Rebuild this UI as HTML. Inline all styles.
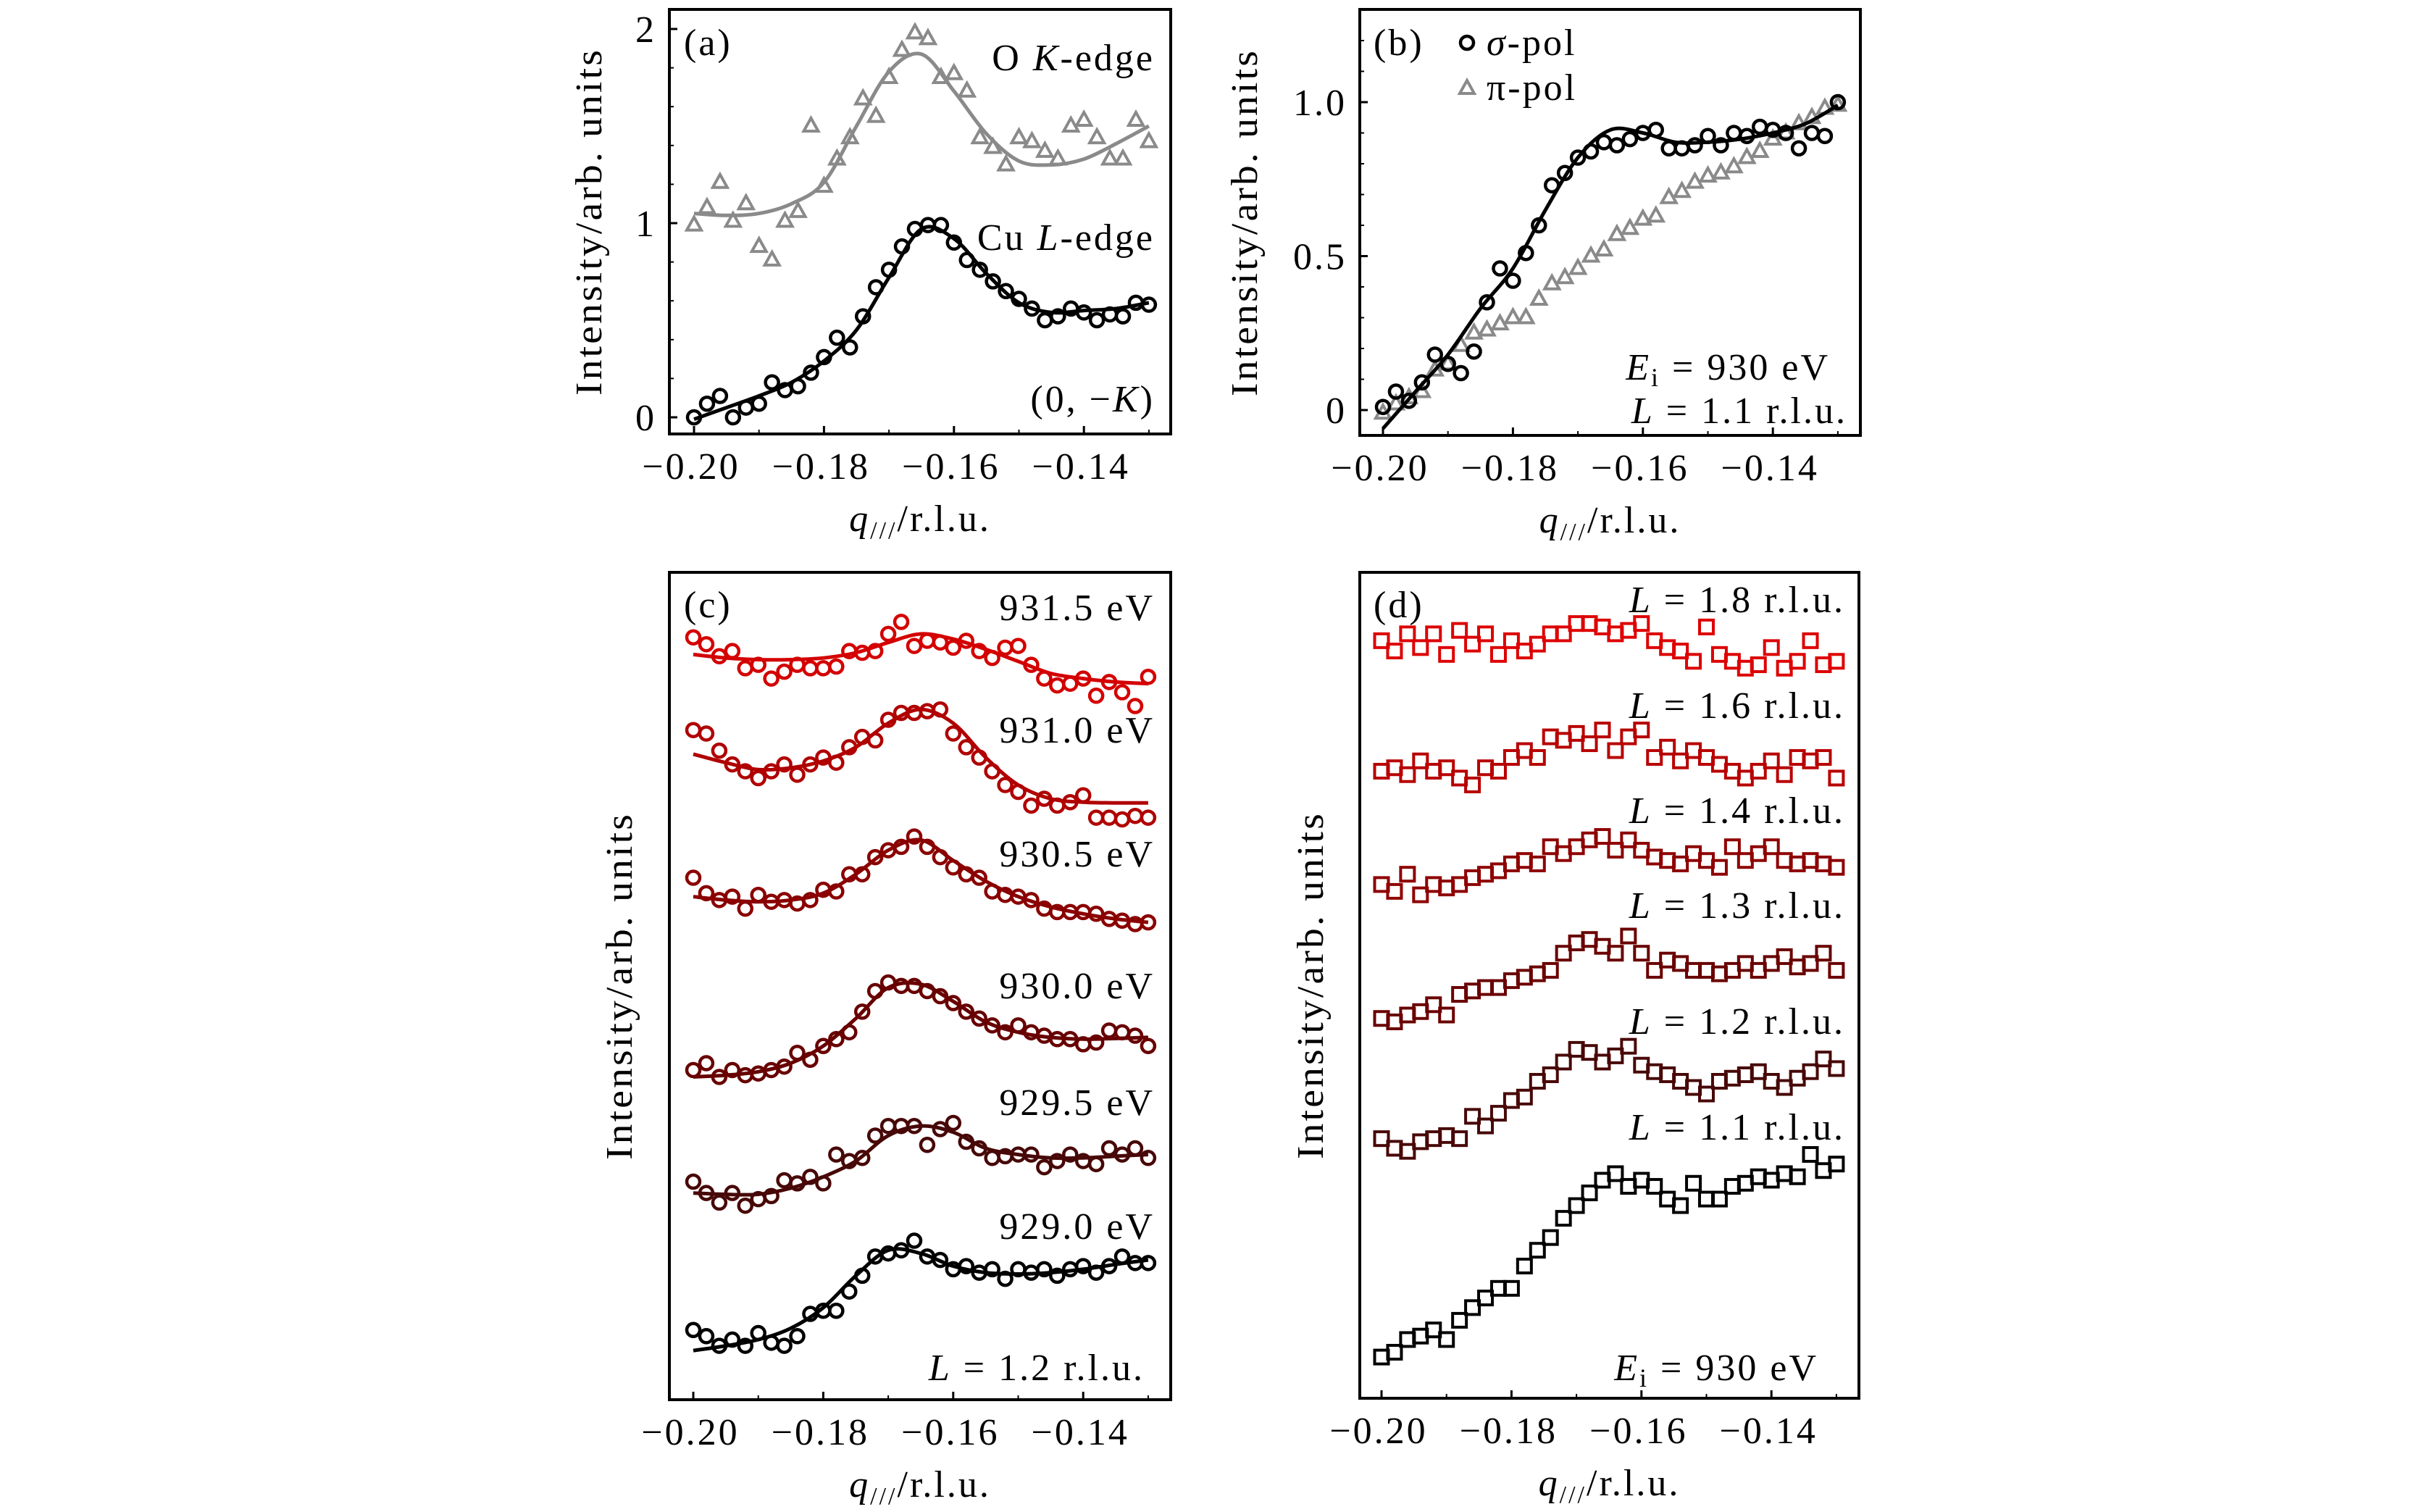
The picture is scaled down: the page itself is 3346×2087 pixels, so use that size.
<!DOCTYPE html>
<html><head><meta charset="utf-8"><style>
html,body{margin:0;padding:0;background:#fff;}
svg{display:block;font-family:"Liberation Serif",serif;}
</style></head><body>
<svg id="fig" width="3346" height="2087" viewBox="0 0 3346 2087" xmlns="http://www.w3.org/2000/svg">
<rect width="3346" height="2087" fill="#fff"/>
<g id="g"></g>
</svg>
<script>
// ---- shared x categories ----
const qs = [-0.200,-0.198,-0.196,-0.194,-0.192,-0.190,-0.188,-0.186,-0.184,-0.182,-0.180,-0.178,-0.176,-0.174,-0.172,-0.170,-0.168,-0.166,-0.164,-0.162,-0.160,-0.158,-0.156,-0.154,-0.152,-0.150,-0.148,-0.146,-0.144,-0.142,-0.140,-0.138,-0.136,-0.134,-0.132,-0.130];
const qFit = [-0.200,-0.195,-0.190,-0.185,-0.180,-0.175,-0.170,-0.165,-0.160,-0.155,-0.150,-0.145,-0.140,-0.135,-0.130];
const xTicks = [-0.20,-0.18,-0.16,-0.14];
const xTickLabels = ["\u22120.20","\u22120.18","\u22120.16","\u22120.14"];
const xMinor = [-0.19,-0.17,-0.15,-0.13];

// ---- panel (a) ----
const aCu = [0.00,0.07,0.11,0.00,0.05,0.07,0.18,0.14,0.16,0.23,0.31,0.41,0.36,0.52,0.67,0.76,0.88,0.97,0.99,0.99,0.90,0.81,0.76,0.70,0.65,0.61,0.56,0.50,0.52,0.56,0.54,0.50,0.53,0.52,0.59,0.58];
const aCuFit = [-0.01,0.05,0.11,0.18,0.29,0.45,0.72,0.97,0.92,0.74,0.59,0.54,0.55,0.56,0.59];
const aO = [0.99,1.08,1.21,1.01,1.10,0.88,0.81,1.01,1.06,1.50,1.19,1.33,1.44,1.64,1.55,1.75,1.89,1.98,1.95,1.75,1.77,1.68,1.44,1.39,1.30,1.44,1.42,1.37,1.33,1.50,1.53,1.44,1.33,1.33,1.53,1.42];
const aOFit = [1.05,1.04,1.05,1.10,1.21,1.50,1.78,1.87,1.68,1.46,1.32,1.30,1.33,1.41,1.50];
const aYTicks = [0,1,2];
const aYMinor = [0.2,0.4,0.6,0.8,1.2,1.4,1.6,1.8];

// ---- panel (b) ----
const bSigma = [0.01,0.06,0.03,0.09,0.18,0.15,0.12,0.19,0.35,0.46,0.42,0.51,0.60,0.73,0.77,0.82,0.84,0.87,0.86,0.88,0.90,0.91,0.85,0.85,0.86,0.89,0.86,0.90,0.89,0.92,0.91,0.90,0.85,0.90,0.89,1.00];
const bSigmaFit = [-0.06,0.06,0.18,0.33,0.46,0.65,0.82,0.91,0.90,0.87,0.87,0.88,0.90,0.93,0.99];
const bPi = [-0.01,0.02,0.04,0.06,0.13,0.15,0.21,0.25,0.26,0.28,0.30,0.30,0.36,0.41,0.43,0.46,0.50,0.52,0.57,0.59,0.62,0.63,0.69,0.71,0.74,0.76,0.77,0.79,0.82,0.84,0.88,0.90,0.93,0.95,0.98,0.99];
const bYTicks = [0,0.5,1.0];
const bYTickLabels = ["0","0.5","1.0"];
const bYMinor = [0.1,0.2,0.3,0.4,0.6,0.7,0.8,0.9,1.1,1.2];

// ---- panel (c) ----
const c9315 = [22.20,22.00,21.65,21.80,21.30,21.40,21.00,21.20,21.40,21.30,21.30,21.35,21.80,21.75,21.80,22.30,22.65,21.95,22.10,22.05,21.90,22.10,21.80,21.60,21.90,21.95,21.40,21.00,20.80,20.85,21.00,20.50,20.90,20.60,20.20,21.05];
const c9315Fit = [21.70,21.60,21.55,21.55,21.60,21.75,22.05,22.30,22.15,21.85,21.50,21.15,21.00,20.90,20.85];
const c9310 = [19.50,19.40,18.90,18.50,18.30,18.10,18.30,18.50,18.20,18.50,18.70,18.55,19.00,19.30,19.20,19.80,20.00,20.00,20.05,20.10,19.40,19.00,18.70,18.30,17.90,17.70,17.30,17.50,17.30,17.40,17.60,16.95,16.95,16.90,17.00,16.95];
const c9310Fit = [18.80,18.55,18.35,18.40,18.60,19.00,19.70,20.10,19.70,18.70,17.90,17.50,17.40,17.38,17.38];
const c9305 = [15.20,14.75,14.55,14.65,14.30,14.70,14.50,14.55,14.45,14.55,14.85,14.80,15.30,15.30,15.80,16.00,16.10,16.40,16.10,15.80,15.50,15.30,15.20,14.80,14.70,14.65,14.55,14.30,14.20,14.20,14.20,14.15,14.00,13.95,13.85,13.90];
const c9305Fit = [14.65,14.55,14.50,14.55,14.75,15.30,16.00,16.30,15.70,15.10,14.65,14.35,14.15,14.00,13.90];
const c9300 = [9.60,9.80,9.40,9.60,9.45,9.50,9.60,9.70,10.10,9.90,10.30,10.50,10.70,11.30,11.90,12.15,12.05,12.05,11.90,11.75,11.55,11.30,11.10,10.90,10.70,10.90,10.70,10.60,10.50,10.50,10.35,10.40,10.75,10.70,10.60,10.30];
const c9300Fit = [9.40,9.45,9.55,9.80,10.30,11.10,12.00,12.10,11.60,11.00,10.70,10.55,10.50,10.52,10.55];
const c9295 = [6.35,6.02,5.74,6.02,5.65,5.84,5.93,6.39,6.30,6.49,6.30,7.14,6.95,7.04,7.69,7.97,7.97,7.97,7.42,7.88,8.06,7.51,7.32,7.04,7.09,7.14,7.14,6.77,6.95,7.14,6.95,6.86,7.32,7.14,7.32,7.04];
const c9295Fit = [6.02,5.98,5.98,6.16,6.49,6.95,7.69,7.97,7.79,7.32,7.14,7.04,7.04,7.09,7.14];
const c9290 = [2.03,1.85,1.57,1.75,1.57,1.94,1.66,1.57,1.85,2.50,2.59,2.59,3.15,3.61,4.17,4.26,4.35,4.63,4.17,4.07,3.80,3.89,3.70,3.80,3.52,3.80,3.70,3.80,3.61,3.80,3.89,3.70,3.89,4.17,3.98,3.98];
const c9290Fit = [1.43,1.57,1.75,2.08,2.68,3.61,4.35,4.26,3.89,3.70,3.66,3.70,3.80,3.94,4.07];

// ---- panel (d) ----
const d18 = [22.06,21.76,22.26,21.86,22.26,21.66,22.36,21.96,22.26,21.66,22.06,21.76,21.96,22.26,22.26,22.56,22.56,22.46,22.26,22.36,22.56,22.06,21.86,21.76,21.46,22.46,21.66,21.46,21.26,21.36,21.86,21.26,21.46,22.06,21.36,21.46];
const d16 = [18.26,18.36,18.16,18.56,18.26,18.36,18.06,17.86,18.36,18.26,18.66,18.86,18.66,19.26,19.16,19.36,19.06,19.46,18.86,19.26,19.46,18.66,18.96,18.56,18.86,18.66,18.46,18.26,18.06,18.26,18.56,18.16,18.66,18.56,18.66,18.06];
const d14 = [14.96,14.76,15.26,14.66,14.96,14.86,14.96,15.16,15.26,15.36,15.56,15.66,15.56,16.06,15.86,16.06,16.26,16.36,15.96,16.26,15.96,15.76,15.66,15.56,15.86,15.66,15.46,16.06,15.66,15.86,16.06,15.66,15.56,15.66,15.56,15.46];
const d13 = [11.06,10.96,11.16,11.26,11.46,11.16,11.76,11.86,11.96,11.96,12.16,12.26,12.36,12.46,12.96,13.26,13.36,13.16,12.96,13.46,12.96,12.46,12.76,12.66,12.46,12.46,12.36,12.46,12.66,12.46,12.66,12.86,12.56,12.66,12.96,12.46];
const d12 = [7.56,7.28,7.19,7.47,7.56,7.65,7.56,8.21,7.93,8.30,8.67,8.77,9.23,9.42,9.79,10.16,10.07,9.79,9.97,10.25,9.70,9.51,9.42,9.23,9.05,8.86,9.23,9.32,9.42,9.51,9.23,9.05,9.32,9.51,9.88,9.60];
const d11 = [1.20,1.34,1.71,1.81,1.99,1.71,2.27,2.64,2.92,3.20,3.20,3.85,4.31,4.68,5.24,5.61,5.98,6.35,6.54,6.17,6.35,6.17,5.80,5.61,6.26,5.80,5.80,6.17,6.26,6.45,6.35,6.54,6.45,7.10,6.63,6.82];

const NS = "http://www.w3.org/2000/svg";
const root = document.getElementById('g');
function mk(tag, attrs, parent){
  const e = document.createElementNS(NS, tag);
  for (const k in attrs) e.setAttribute(k, attrs[k]);
  (parent||root).appendChild(e);
  return e;
}
function makeX(x0){ return q => x0 + (q + 0.20) * 8970; }
function makeY(base, k){ return v => base - k * v; }

function smoothPath(pts){
  let d = "M" + pts[0][0].toFixed(1) + "," + pts[0][1].toFixed(1);
  for (let i = 0; i < pts.length - 1; i++){
    const p0 = pts[i-1] || pts[i], p1 = pts[i], p2 = pts[i+1], p3 = pts[i+2] || p2;
    const c1 = [p1[0] + (p2[0]-p0[0])/6, p1[1] + (p2[1]-p0[1])/6];
    const c2 = [p2[0] - (p3[0]-p1[0])/6, p2[1] - (p3[1]-p1[1])/6];
    d += "C" + c1[0].toFixed(1)+","+c1[1].toFixed(1)+" "+c2[0].toFixed(1)+","+c2[1].toFixed(1)+" "+p2[0].toFixed(1)+","+p2[1].toFixed(1);
  }
  return d;
}

function drawFit(g, xs, ys, X, Y, color, name){
  const pts = xs.map((q,i)=>[X(q), Y(ys[i])]);
  const p = mk('path', {d: smoothPath(pts), fill:'none', stroke:color, 'stroke-width':5}, g);
  
  
}

function drawMarkers(g, xs, ys, X, Y, color, shape, name){
  const sg = mk('g', {}, g);
  
  
  xs.forEach((q,i)=>{
    const cx = X(q), cy = Y(ys[i]);
    let m;
    if (shape === 'circle') m = mk('circle', {cx:cx, cy:cy, r:9, fill:'none', stroke:color, 'stroke-width':4.5}, sg);
    else if (shape === 'square') m = mk('rect', {x:cx-9.5, y:cy-9.5, width:19, height:19, fill:'none', stroke:color, 'stroke-width':4}, sg);
    else m = mk('polygon', {points:(cx)+","+(cy-11)+" "+(cx-10)+","+(cy+7)+" "+(cx+10)+","+(cy+7), fill:'none', stroke:color, 'stroke-width':4}, sg);
    
    
  });
}

function text(g, x, y, str, opts){
  const t = mk('text', Object.assign({x:x, y:y, 'font-size':52, 'letter-spacing':3, fill:'#000'}, opts||{}), g);
  t.innerHTML = str;
  return t;
}

function axes(g, box, X, Y, yTicks, yLabels, yMinor, ylabX, tag){
  const [l,t,r,b] = box;
  const frame = mk('rect', {x:l, y:t, width:r-l, height:b-t, fill:'none', stroke:'#000', 'stroke-width':4}, g);
  
  
  xTicks.forEach((q,i)=>{
    const x = X(q);
    mk('line', {x1:x, y1:b, x2:x, y2:b-11, stroke:'#000', 'stroke-width':3}, g);
    const tl = text(g, x-4, b+62, xTickLabels[i], {'text-anchor':'middle'});
    
    
  });
  xMinor.forEach(q=>{ const x = X(q); mk('line', {x1:x, y1:b, x2:x, y2:b-6, stroke:'#000', 'stroke-width':2}, g); });
  if (yTicks){
    yTicks.forEach((v,i)=>{
      const y = Y(v);
      mk('line', {x1:l, y1:y, x2:l+11, y2:y, stroke:'#000', 'stroke-width':3}, g);
      const yl = text(g, l-18, y+18, yLabels[i], {'text-anchor':'end'});
      
      
    });
    yMinor.forEach(v=>{ const y = Y(v); mk('line', {x1:l, y1:y, x2:l+6, y2:y, stroke:'#000', 'stroke-width':2}, g); });
  }
  const xt = text(g, (l+r)/2, b+134, '<tspan font-style="italic">q</tspan><tspan font-size="34" dy="10">///</tspan><tspan dy="-10">/r.l.u.</tspan>', {'text-anchor':'middle'});
  
  
  const cy = (t+b)/2;
  const yt = text(g, ylabX, cy, 'Intensity/arb. units', {'text-anchor':'middle', transform:'rotate(-90 '+ylabX+' '+cy+')', textLength:480, lengthAdjust:'spacingAndGlyphs'});
  
  
}

function panel(name){ const g = mk('g', {});   return g; }

// ===== panel a =====
{
  const g = panel('panel-a');
  const X = makeX(958), Y = makeY(576, 268);
  axes(g, [924,13,1616,599], X, Y, aYTicks, ["0","1","2"], aYMinor, 830, 'panel-a');
  drawFit(g, qFit, aOFit, X, Y, '#8a8a8a', 'o-k-edge-fit');
  drawMarkers(g, qs, aO, X, Y, '#8a8a8a', 'tri', 'o-k-edge-series');
  drawFit(g, qFit, aCuFit, X, Y, '#000', 'cu-l-edge-fit');
  drawMarkers(g, qs, aCu, X, Y, '#000', 'circle', 'cu-l-edge-series');
  text(g, 944, 76, '(a)');
  text(g, 1594, 97, 'O <tspan font-style="italic">K</tspan>-edge', {'text-anchor':'end'});
  text(g, 1594, 345, 'Cu <tspan font-style="italic">L</tspan>-edge', {'text-anchor':'end'});
  text(g, 1594, 568, '(0, \u2212<tspan font-style="italic">K</tspan>)', {'text-anchor':'end'});
}
// ===== panel b =====
{
  const g = panel('panel-b');
  const X = makeX(1909), Y = makeY(566, 425);
  axes(g, [1877,13,2568,601], X, Y, bYTicks, bYTickLabels, bYMinor, 1735, 'panel-b');
  drawMarkers(g, qs, bPi, X, Y, '#8a8a8a', 'tri', 'pi-pol-series');
  drawFit(g, qFit, bSigmaFit, X, Y, '#000', 'sigma-pol-fit');
  drawMarkers(g, qs, bSigma, X, Y, '#000', 'circle', 'sigma-pol-series');
  text(g, 1896, 76, '(b)');
  const lg = mk('g', {}, g);  
  mk('circle', {cx:2025, cy:59, r:9, fill:'none', stroke:'#000', 'stroke-width':4.5}, lg);
  text(lg, 2052, 76, '<tspan font-style="italic">σ</tspan>-pol');
  mk('polygon', {points:"2025,111 2015,129 2035,129", fill:'none', stroke:'#8a8a8a', 'stroke-width':4}, lg);
  text(lg, 2052, 138, 'π-pol');
  text(g, 2526, 524, '<tspan font-style="italic">E</tspan><tspan font-size="36" dy="9">i</tspan><tspan dy="-9"> = 930 eV</tspan>', {'text-anchor':'end'});
  text(g, 2550, 584, '<tspan font-style="italic">L</tspan> = 1.1 r.l.u.', {'text-anchor':'end'});
}
// ===== panel c =====
{
  const g = panel('panel-c');
  const X = makeX(957), Y = makeY(1932, 47.4);
  axes(g, [924,790,1616,1932], X, Y, null, null, null, 872, 'panel-c');
  const series = [
    [c9315, c9315Fit, '#d40000', '931.5 eV', 856],
    [c9310, c9310Fit, '#b00000', '931.0 eV', 1025],
    [c9305, c9305Fit, '#8a0000', '930.5 eV', 1196],
    [c9300, c9300Fit, '#680000', '930.0 eV', 1378],
    [c9295, c9295Fit, '#480808', '929.5 eV', 1539],
    [c9290, c9290Fit, '#000000', '929.0 eV', 1710]
  ];
  series.forEach(s=>{
    const id = 'energy-' + s[3].replace(' eV','').replace('.','-');
    drawFit(g, qFit, s[1], X, Y, s[2], id + '-fit');
    drawMarkers(g, qs, s[0], X, Y, s[2], 'circle', id + '-series');
    text(g, 1594, s[4], s[3], {'text-anchor':'end'});
  });
  text(g, 944, 852, '(c)');
  text(g, 1580, 1905, '<tspan font-style="italic">L</tspan> = 1.2 r.l.u.', {'text-anchor':'end'});
}
// ===== panel d =====
{
  const g = panel('panel-d');
  const X = makeX(1907), Y = makeY(1930, 47.4);
  axes(g, [1877,790,2566,1930], X, Y, null, null, null, 1826, 'panel-d');
  const series = [
    [d18, '#dd0000', '1.8', 845],
    [d16, '#b80000', '1.6', 991],
    [d14, '#8e0000', '1.4', 1136],
    [d13, '#6a0000', '1.3', 1267],
    [d12, '#480808', '1.2', 1427],
    [d11, '#000000', '1.1', 1573]
  ];
  series.forEach(s=>{
    const id = 'l-' + s[2].replace('.','-');
    drawMarkers(g, qs, s[0], X, Y, s[1], 'square', id + '-series');
    text(g, 2547, s[3], '<tspan font-style="italic">L</tspan> = ' + s[2] + ' r.l.u.', {'text-anchor':'end'});
  });
  text(g, 1896, 852, '(d)');
  text(g, 2510, 1905, '<tspan font-style="italic">E</tspan><tspan font-size="36" dy="9">i</tspan><tspan dy="-9"> = 930 eV</tspan>', {'text-anchor':'end'});
}
</script>
</body></html>
